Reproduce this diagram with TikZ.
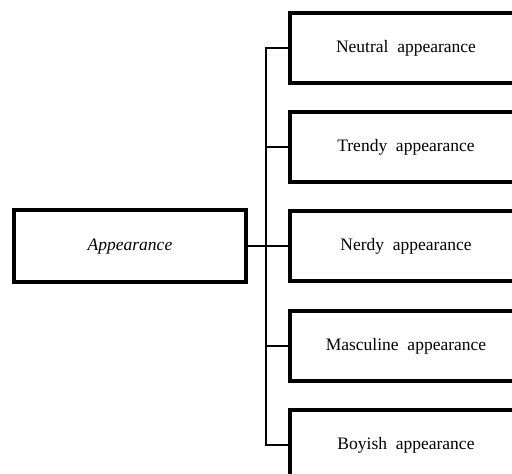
\documentclass[tikz,border=0pt]{standalone}
\usepackage{fontspec}
\setmainfont{Liberation Serif}
\begin{document}
\begin{tikzpicture}[x=1pt,y=-1pt,
  box/.style={draw=black,line width=4pt,fill=white,minimum width=232pt,minimum height=70pt,inner sep=0pt,font=\fontsize{17.5}{20}\selectfont,anchor=west,text depth=0pt,text height=0pt},
  conn/.style={draw=black,line width=2.7pt}]
\useasboundingbox (0,0) rectangle (512,474);
\clip (0,0) rectangle (512,474);
\node[box,minimum height=72pt] (main) at (12,246) {\raisebox{-4pt}{\itshape Appearance}};
\coordinate (j) at (266,246);
\node[box] (b1) at (288,48) {\raisebox{-4pt}{Neutral\ \ appearance}};
\node[box] (b2) at (288,147) {\raisebox{-4pt}{Trendy\ \ appearance}};
\node[box] (b3) at (288,246) {\raisebox{-4pt}{Nerdy\ \ appearance}};
\node[box] (b4) at (288,346) {\raisebox{-4pt}{Masculine\ \ appearance}};
\node[box] (b5) at (288,445) {\raisebox{-4pt}{Boyish\ \ appearance}};
\draw[conn] (main.east) -- (j);
\draw[conn] (b1.west) -| (j);
\draw[conn] (b5.west) -| (j);
\draw[conn] (b2.west) -- (b2.west -| j);
\draw[conn] (b3.west) -- (j);
\draw[conn] (b4.west) -- (b4.west -| j);
\end{tikzpicture}
\end{document}
